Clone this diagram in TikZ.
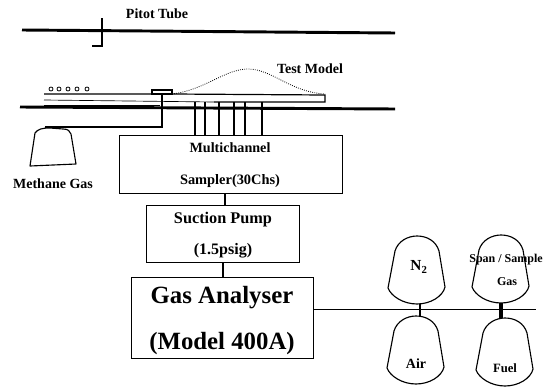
\documentclass[tikz,border=0pt]{standalone}
\usepackage{fontspec}
\setmainfont{Liberation Serif}
\usetikzlibrary{calc}
\newcommand{\fs}[1]{\fontsize{#1}{#1}\selectfont\bfseries}
\tikzset{
  x=0.75pt,y=-0.75pt,
  boxnode/.style={draw=black,line width=0.85pt,inner sep=0pt,anchor=north west},
  rail/.style={line width=2.2pt,black},
  wire/.style={line width=0.9pt,black},
  lab/.style={inner sep=0pt,text=black,align=center},
  bottleline/.style={line width=0.85pt,black,line join=round},
}
\newcommand{\bottle}[2]{%
  \draw[bottleline] (#1+7,#2+15) .. controls (#1+10,#2+5) and (#1+20,#2) .. (#1+29,#2)
     .. controls (#1+39,#2) and (#1+48,#2+5) .. (#1+51,#2+15)
     -- (#1+57,#2+51) .. controls (#1+55,#2+60) and (#1+43,#2+68) .. (#1+29,#2+68)
     .. controls (#1+15,#2+68) and (#1+3,#2+60) .. (#1,#2+52) -- cycle;
}
\begin{document}
\begin{tikzpicture}
\useasboundingbox (0,0) rectangle (549,389);
\fill[white] (0,0) rectangle (549,389);
% rails
\coordinate (pitotL) at (22,30); \coordinate (pitotR) at (395,33);
\draw[rail] (pitotL) -- (pitotR);
\coordinate (probeT) at (102,18); \coordinate (probeB) at (102,46); \coordinate (probeF) at (92,46);
\draw[wire] (probeT) -- (probeB) -- (probeF);
\coordinate (floorL) at (20,107); \coordinate (floorR) at (395,109);
\draw[rail] (floorL) -- (floorR);
% plate
\draw[wire] (44,94) -- (152,94) (172,94) -- (325,95) -- (325,102) -- (214,102);
\draw[line width=0.5pt] (44,100) -- (214,102);
\draw[line width=0.5pt] (44,105) -- (160,105);
\draw[line width=0.8pt] (152,94) rectangle (172,90);
\foreach \cx in {51,59,68,77,87} \draw[line width=0.6pt] (\cx,89) circle (2);
\draw[line width=0.6pt,densely dotted] (172,94) .. controls (205,90) and (225,69) .. (248,69)
   .. controls (272,69) and (290,92) .. (325,94);
% boxes
\node[boxnode,minimum width=167.25pt,minimum height=43.5pt] (multi) at (119,135) {};
\node[boxnode,minimum width=114.75pt,minimum height=42.75pt] (pump) at (146,205) {};
\node[boxnode,minimum width=136.5pt,minimum height=60.75pt] (gas) at (131,277) {};
% tube to methane
\coordinate (tubeT) at (162,94); \coordinate (tubeC) at (162,127); \coordinate (tubeE) at (45,127);
\draw[wire] (tubeT) -- (tubeC) -- (tubeE);
% methane cylinder
\draw[bottleline] (35,133) .. controls (38,129) and (42,128) .. (50,128)
   -- (63,129) .. controls (68,129) and (70,131) .. (71,134)
   -- (76,164) -- (30,166) -- cycle;
% channels
\foreach \cx/\w in {195/1.2,205/0.8,219/1,234/1,245/0.8,262/1.2}
  \draw[line width=\w pt] (\cx,102) -- (\cx,135);
% box links
\coordinate (l1) at (225,0); \coordinate (l2) at (223,0);
\draw[wire] (multi.south -| l1) -- (pump.north -| l1);
\draw[wire] (pump.south -| l2) -- (gas.north -| l2);
\coordinate (lineE) at (536,309.5);
\draw[line width=1.1pt] (gas.east |- lineE) -- (lineE);
% bottles
\bottle{388}{236}
\bottle{472}{235}
\bottle{387}{316}
\bottle{476}{318}
\coordinate (n2b) at (420,304); \coordinate (airt) at (420,316);
\coordinate (gb) at (501,303); \coordinate (ft) at (501,318);
\draw[line width=1.4pt] (n2b) -- (airt);
\draw[line width=2.4pt] (gb) -- (ft);
% labels
\node[lab,font=\fs{10.5}] (t1) at (157,14) {Pitot Tube};
\node[lab,font=\fs{10.5}] (t2) at (310,69) {Test Model};
\node[lab,font=\fs{10.5}] (t3) at (53,184) {Methane Gas};
\node[lab,font=\fs{10.6}] (t4) at (230,148) {Multichannel};
\node[lab,font=\fs{10.8}] (t5) at (230,181) {Sampler(30Chs)};
\node[lab,font=\fs{12.2}] (t6) at (223,220) {Suction Pump};
\node[lab,font=\fs{12}] (t7) at (223,251) {(1.5psig)};
\node[lab,font=\fs{18.6}] (t8) at (222,297.5) {Gas Analyser};
\node[lab,font=\fs{18.6}] (t9) at (222,344) {(Model 400A)};
\node[lab,font=\fs{11.5}] (t10) at (419,267) {N\textsubscript{2}};
\node[lab,font=\fs{9}] (t11) at (506,260) {Span / Sample};
\node[lab,font=\fs{9}] (t12) at (507,282) {Gas};
\node[lab,font=\fs{10.5}] (t13) at (416,364) {Air};
\node[lab,font=\fs{9.5}] (t14) at (505,368) {Fuel};
\end{tikzpicture}
\end{document}
